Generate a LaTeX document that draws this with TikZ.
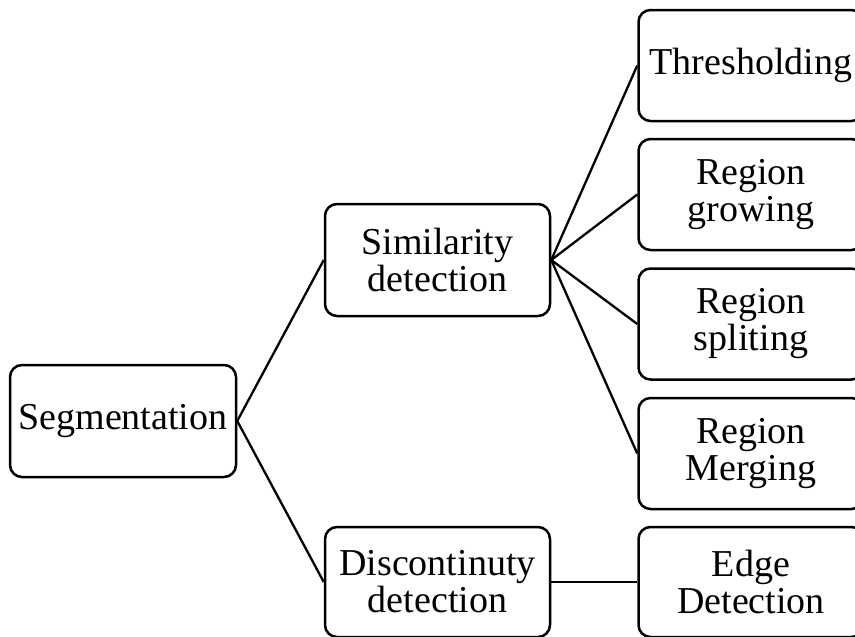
\documentclass[tikz,border=0pt]{standalone}
\usepackage{fontspec}
\setmainfont{Liberation Serif}
\begin{document}
\begin{tikzpicture}[x=1pt,y=-1pt,
  box/.style={draw, line width=2.5pt, rounded corners=12pt, rectangle, inner sep=0pt,
    minimum width=225pt, minimum height=111pt, align=center,
    font=\fontsize{38pt}{37pt}\selectfont},
  link/.style={line width=2.3pt}]
\path[use as bounding box] (0,0) rectangle (855,637);
\node[box, minimum width=226pt, minimum height=112pt] (seg) at (123,421) {Segmentation};
\node[box, minimum height=112pt] (sim) at (437.5,260) {Similarity\\detection};
\node[box, minimum height=110pt] (dis) at (437.5,582) {Discontinuty\\detection};
\node[box] (thr) at (751,65.5) {Thresholding};
\node[box] (gro) at (751,194.5) {Region\\growing};
\node[box] (spl) at (751,324) {Region\\spliting};
\node[box] (mer) at (751,453.5) {Region\\Merging};
\node[box, minimum height=110pt] (edg) at (751,582) {Edge\\Detection};
\draw[link] (seg.east) -- (sim.west);
\draw[link] (seg.east) -- (dis.west);
\draw[link] (sim.east) -- (thr.west);
\draw[link] (sim.east) -- (gro.west);
\draw[link] (sim.east) -- (spl.west);
\draw[link] (sim.east) -- (mer.west);
\draw[link] (dis.east) -- (edg.west);
\end{tikzpicture}
\end{document}
